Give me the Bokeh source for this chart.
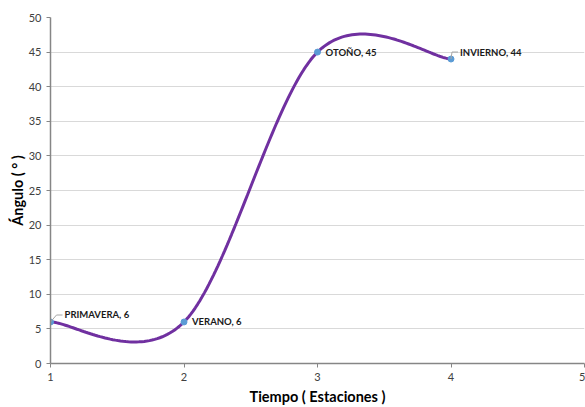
import numpy as np
from bokeh.plotting import figure
from bokeh.models import Range1d, FixedTicker
from bokeh.core.properties import value
from bokeh.embed import file_html
from bokeh.resources import INLINE

# ---- data ----
seasons = ["PRIMAVERA", "VERANO", "OTOÑO", "INVIERNO"]
tiempo = [1, 2, 3, 4]
angulo = [6, 6, 45, 44]
x_ticks = [1, 2, 3, 4, 5]
y_ticks = [0, 5, 10, 15, 20, 25, 30, 35, 40, 45, 50]

FONT = "Lato"

# smoothed line (Catmull-Rom Bezier, like a spreadsheet "smoothed line")
def smooth(xs, ys, n=60):
    px = [xs[0]] + list(xs) + [xs[-1]]
    py = [ys[0]] + list(ys) + [ys[-1]]
    outx, outy = [], []
    t = np.linspace(0, 1, n)
    for i in range(1, len(px) - 2):
        p0 = np.array([px[i], py[i]], float)
        p3 = np.array([px[i + 1], py[i + 1]], float)
        c1 = p0 + (np.array([px[i + 1], py[i + 1]]) - np.array([px[i - 1], py[i - 1]])) / 6.0
        c2 = p3 - (np.array([px[i + 2], py[i + 2]]) - np.array([px[i], py[i]])) / 6.0
        b = ((1 - t) ** 3)[:, None] * p0 + (3 * (1 - t) ** 2 * t)[:, None] * c1 \
            + (3 * (1 - t) * t ** 2)[:, None] * c2 + (t ** 3)[:, None] * p3
        outx.extend(b[:, 0]); outy.extend(b[:, 1])
    return outx, outy

sx, sy = smooth(tiempo, angulo)

p = figure(width=585, height=407, output_backend="svg", toolbar_location=None,
           x_range=Range1d(1, 5), y_range=Range1d(0, 50),
           min_border_left=50, min_border_right=1, min_border_top=17, min_border_bottom=43)
p.outline_line_color = None
p.xgrid.grid_line_color = None
p.ygrid.grid_line_color = "#d9d9d9"
p.ygrid.grid_line_width = 1

for ax in (p.xaxis[0], p.yaxis[0]):
    ax.axis_line_color = "#868686"
    ax.axis_line_width = 1.5
    ax.major_tick_line_color = "#868686"
    ax.major_tick_out = 4
    ax.major_tick_in = 0
    ax.minor_tick_line_color = None
    ax.major_label_text_font = FONT
    ax.major_label_text_font_size = "11px"
    ax.major_label_text_color = "#404040"
    ax.axis_label_text_font = FONT
    ax.axis_label_text_font_style = "bold"
    ax.axis_label_text_font_size = "14.5px"
    ax.axis_label_text_color = "#000000"

p.xaxis.ticker = FixedTicker(ticks=x_ticks)
p.yaxis.ticker = FixedTicker(ticks=y_ticks)
p.xaxis.axis_label = "Tiempo ( Estaciones )"
p.yaxis.axis_label = "Ángulo ( ° )"
p.xaxis.major_label_standoff = 5
p.yaxis.major_label_standoff = 5
p.xaxis.axis_label_standoff = 4
p.yaxis.axis_label_standoff = 0

p.line(sx, sy, line_color="#7030a0", line_width=3)
p.scatter(tiempo, angulo, size=6, fill_color="#5b9bd5", line_color="#5b9bd5")

labels = [f"{s}, {v}" for s, v in zip(seasons, angulo)]
# label offsets in screen px (dx, dy up) and whether a leader line is drawn
offs = [(14, 7, True), (8, 0, False), (8, 0, False), (9, 7, True)]
px_x = 4 / 534.0
px_y = 50 / 347.0
for (x, y, lab, (dx, dy, lead)) in zip(tiempo, angulo, labels, offs):
    p.text([x], [y], text=[lab], x_offset=dx, y_offset=-dy,
           text_font=value(FONT), text_font_style="bold", text_font_size="9.5px",
           text_color="#1a1a1a", text_baseline="middle", text_align="left")
    if lead:
        p.line([x, x + (dx - 8) * px_x, x + (dx - 2) * px_x],
               [y, y + dy * px_y, y + dy * px_y],
               line_color="#a6a6a6", line_width=1)

open("out.html", "w").write(file_html(p, INLINE))
